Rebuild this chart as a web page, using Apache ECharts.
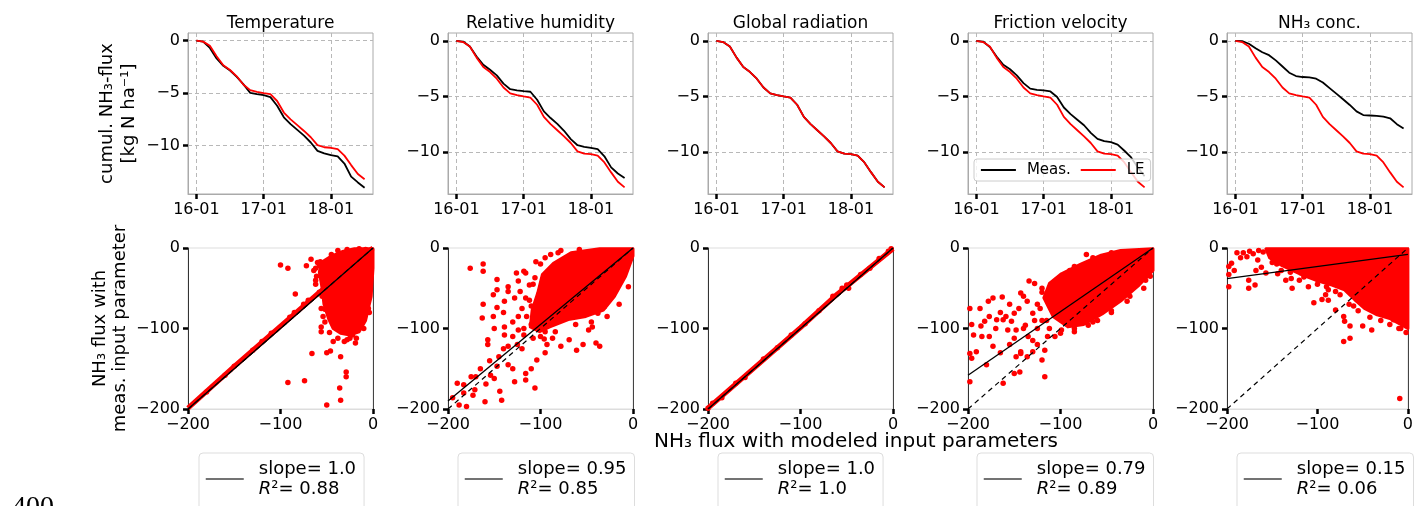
<!DOCTYPE html>
<html>
<head>
<meta charset="utf-8">
<title>NH3 flux sensitivity</title>
<script src="https://cdn.jsdelivr.net/npm/echarts/dist/echarts.min.js"></script>
<style>
  html, body { margin: 0; padding: 0; background: #fff; }
  #main { width: 1416px; height: 506px; }
</style>
</head>
<body>
<div id="main"></div>
<script>
// cumulative flux, x in days after 16-01
const days = [0, 0.1, 0.2, 0.3, 0.4, 0.5, 0.6, 0.7, 0.8, 0.9, 1.0, 1.1, 1.2, 1.3, 1.4, 1.5, 1.6, 1.7, 1.8, 1.9, 2.0, 2.1, 2.2, 2.3, 2.4, 2.5];
const dayTicks = ['16-01', '17-01', '18-01'];

const leFlux = [0, -0.1, -0.5, -1.5, -2.35, -2.8, -3.4, -4.2, -4.72, -4.88, -5.0, -5.1, -5.75, -6.85, -7.5, -8.05, -8.6, -9.2, -9.95, -10.15, -10.2, -10.33, -10.95, -11.85, -12.7, -13.2];
const measTemp = [0, -0.1, -0.7, -1.7, -2.4, -2.85, -3.45, -4.17, -4.98, -5.1, -5.19, -5.38, -6.2, -7.3, -7.95, -8.5, -9.05, -9.7, -10.5, -10.74, -10.9, -11.03, -11.7, -12.95, -13.5, -14.0];
const measHum = [0, -0.05, -0.5, -1.4, -2.15, -2.6, -3.1, -3.85, -4.35, -4.45, -4.52, -4.58, -5.3, -6.35, -6.95, -7.47, -8.1, -8.85, -9.4, -9.55, -9.64, -9.75, -10.4, -11.4, -11.95, -12.35];
const measRad = [0, -0.1, -0.5, -1.5, -2.35, -2.8, -3.4, -4.2, -4.72, -4.88, -5.0, -5.1, -5.75, -6.85, -7.5, -8.05, -8.6, -9.2, -9.95, -10.15, -10.2, -10.33, -10.95, -11.85, -12.7, -13.2];
const measUstar = [0, -0.05, -0.55, -1.4, -2.15, -2.55, -3.1, -3.8, -4.3, -4.4, -4.46, -4.55, -5.05, -6.0, -6.6, -7.1, -7.6, -8.28, -8.83, -9.04, -9.13, -9.34, -9.9, -10.5, -11.4, -12.2];
const measConc = [0, -0.02, -0.25, -0.65, -1.02, -1.28, -1.75, -2.3, -2.86, -3.16, -3.25, -3.28, -3.4, -3.75, -4.25, -4.75, -5.25, -5.77, -6.35, -6.68, -6.72, -6.76, -6.82, -6.97, -7.5, -7.89];

const panelTitles = ['Temperature', 'Relative humidity', 'Global radiation', 'Friction velocity', 'NH₃ conc.'];
const topYMin = [-14.6, -13.8, -13.8, -13.8, -13.8];

// scatter: x = flux with modeled input, y = flux with measured input
const coreTemp = [[0, -1], [-20, -1], [-32, -4], [-45, -10], [-56, -18], [-58, -30], [-55, -50], [-53, -70], [-48, -88], [-43, -100], [-35, -106], [-25, -108], [-15, -104], [-8, -90], [-2, -60], [0, -25]];
const coreHum = [[0, -1], [-36, -1], [-67, -6], [-86, -19], [-98, -33], [-103, -56], [-109, -77], [-111, -98], [-101, -104], [-90, -98], [-70, -89], [-51, -85], [-32, -77], [-20, -60], [-8, -35], [0, -10]];
const coreUstar = [[0, -1], [-35, -3], [-56, -9], [-78, -20], [-99, -32], [-112, -44], [-118, -62], [-108, -85], [-92, -98], [-75, -95], [-55, -82], [-35, -66], [-15, -46], [0, -28]];
const coreConc = [[-157, -1], [0, -1], [0, -100], [-8, -95], [-19, -88], [-34, -83], [-48, -75], [-59, -64], [-70, -52], [-84, -46], [-102, -40], [-120, -32], [-139, -22], [-153, -12]];

const bandTemp = [[-200, -199], [-150, -147], [-100, -97], [-60, -57], [-30, -28], [0, 0]];
const bandRad = [[-200, -199], [-150, -149], [-100, -99], [-60, -57], [-45, -43], [0, -1]];

const pointsTemp = [[-100, -21], [-92, -25], [-84, -57], [-72, -22], [-67, -14], [-60, -18], [-57, -17], [-52, -76], [-56, -98], [-56, -104], [-66, -131], [-50, -130], [-46, -128], [-35, -135], [-43, -116], [-31, -116], [-29, -154], [-29, -160], [-36, -174], [-35, -189], [-50, -195], [-74, -165], [-92, -167], [-19, -118], [-20, -102], [-62, -40], [-64, -28], [-48, -50], [-55, -60], [-40, -95], [-10, -88], [-5, -75], [-25, -112], [-52, -40], [-62, -25], [-45, -8], [-38, -3], [-28, -2], [-15, -1], [-8, -2], [-180, -179], [-160, -158], [-130, -127], [-110, -106], [-90, -86], [-75, -70], [-150, -147], [-120, -116], [-85, -80], [-70, -65], [-58, -22], [-61, -35], [-58, -55], [-56, -75], [-52, -92], [-47, -105], [-38, -112], [-28, -114], [-18, -112], [-10, -100], [-4, -80], [-62, -45], [-54, -85], [-22, -108]];
const pointsHum = [[-176, -25], [-162, -20], [-162, -29], [-162, -70], [-163, -87], [-147, -39], [-147, -52], [-135, -48], [-135, -54], [-124, -41], [-122, -54], [-116, -31], [-112, -46], [-106, -37], [-157, -114], [-157, -120], [-151, -85], [-139, -98], [-139, -108], [-124, -102], [-135, -122], [-145, -135], [-135, -145], [-147, -147], [-154, -158], [-150, -162], [-159, -169], [-160, -191], [-173, -183], [-171, -176], [-183, -170], [-188, -195], [-180, -197], [-144, -178], [-142, -189], [-128, -166], [-116, -156], [-116, -164], [-106, -174], [-104, -139], [-93, -120], [-87, -112], [-78, -122], [-69, -114], [-61, -127], [-54, -120], [-40, -118], [-36, -122], [-48, -102], [-44, -98], [-38, -81], [-31, -73], [-124, -85], [-110, -72], [-147, -74], [-128, -62], [-139, -66], [-116, -62], [-151, -58], [-126, -31], [-118, -29], [-105, -17], [-89, -8], [-81, -6], [-190, -168], [-183, -180], [-195, -186], [-170, -160], [-125, -120], [-110, -95], [-100, -110], [-118, -108], [-95, -104], [-130, -92], [-100, -20], [-95, -12], [-108, -45], [-112, -65], [-115, -85], [-118, -100], [-108, -112], [-96, -113], [-84, -104], [-62, -95], [-45, -92], [-28, -85], [-15, -70], [-5, -48], [-78, -3], [-58, -2], [-120, -75], [-130, -110], [-140, -125], [-165, -150], [-175, -160], [-155, -140], [-120, -125], [-95, -130], [-110, -150], [-130, -150], [-140, -80], [-150, -100]];
const pointsRad = [[-200, -199], [-195, -193], [-185, -186], [-170, -168], [-160, -161], [-140, -138], [-125, -124], [-110, -108], [-95, -94], [-80, -78], [-65, -60], [-55, -50], [-50, -46], [-48, -50], [-35, -33], [-25, -25], [-15, -13], [-5, -4], [-2, -1]];
const pointsUstar = [[-198, -75], [-187, -75], [-178, -66], [-173, -62], [-163, -61], [-177, -85], [-169, -89], [-196, -95], [-194, -108], [-186, -97], [-191, -129], [-198, -131], [-196, -137], [-198, -166], [-177, -110], [-173, -122], [-162, -89], [-157, -102], [-150, -112], [-148, -135], [-143, -131], [-150, -156], [-144, -154], [-162, -168], [-148, -102], [-134, -41], [-128, -44], [-143, -56], [-136, -66], [-130, -81], [-150, -81], [-153, -91], [-143, -129], [-136, -135], [-130, -129], [-125, -120], [-117, -127], [-120, -139], [-117, -160], [-114, -110], [-106, -110], [-99, -102], [-92, -93], [-72, -8], [-85, -23], [-103, -39], [-110, -48], [-159, -85], [-182, -91], [-122, -75], [-115, -90], [-125, -100], [-138, -96], [-120, -55], [-85, -100], [-70, -96], [-60, -90], [-45, -78], [-25, -60], [-8, -40], [-120, -50], [-125, -70], [-120, -90], [-112, -100], [-100, -106], [-85, -104], [-65, -92], [-45, -80], [-28, -66], [-10, -50], [-3, -35], [-90, -28], [-65, -12], [-45, -6], [-140, -60], [-145, -75], [-155, -70], [-165, -80], [-185, -110], [-170, -100], [-135, -110], [-130, -115], [-140, -100], [-128, -90], [-155, -120], [-165, -130], [-180, -145]];
const pointsConc = [[-198, -23], [-198, -33], [-198, -48], [-195, -19], [-189, -6], [-182, -6], [-175, -4], [-178, -11], [-171, -7], [-166, -15], [-176, -40], [-176, -50], [-169, -46], [-162, -24], [-157, -31], [-149, -6], [-144, -32], [-129, -38], [-128, -50], [-104, -68], [-95, -64], [-91, -58], [-80, -77], [-71, -85], [-70, -91], [-64, -97], [-71, -116], [-64, -112], [-50, -97], [-40, -102], [-25, -81], [-16, -89], [-8, -100], [-9, -187], [-110, -22], [-97, -39], [-80, -54], [-150, -18], [-140, -28], [-120, -40], [-110, -48], [-88, -52], [-60, -72], [-2, -105], [-160, -5], [-165, -3], [-150, -12], [-145, -20], [-130, -30], [-115, -36], [-100, -45], [-90, -48], [-75, -58], [-65, -70], [-55, -78], [-42, -86], [-30, -90], [-20, -95], [-10, -100], [-185, -12], [-192, -28], [-168, -28], [-135, -40], [-88, -65]];

const fitLines = [[[-200, -200], [0, 0]], [[-200, -190], [0, 0]], [[-200, -200], [0, 0]], [[-200, -158], [0, 0]], [[-200, -38], [0, -8]]];
const oneToOne = [[-200, -200], [0, 0]];
const slopes = ['1.0', '0.95', '1.0', '0.79', '0.15'];
const rSquared = ['0.88', '0.85', '1.0', '0.89', '0.06'];

const measSeries = [measTemp, measHum, measRad, measUstar, measConc];
const cores = [coreTemp, coreHum, null, coreUstar, coreConc];
const bands = [bandTemp, null, bandRad, null, null];
const points = [pointsTemp, pointsHum, pointsRad, pointsUstar, pointsConc];

const font = 'DejaVu Sans';
const lefts = [188, 448, 708, 968, 1227];
const boxLefts = [199, 458, 718, 977, 1237];
const minus = v => String(v).replace('-', '−');

let myChart = echarts.init(document.getElementById('main'));

let grid = [], xAxis = [], yAxis = [], series = [], legend = [], graphic = [];

const tickStyle = { show: true, length: 5, inside: false, lineStyle: { color: '#000', width: 2.5 } };
const labelStyle = { color: '#000', fontSize: 16, fontFamily: font, margin: 8 };

// top row: cumulative fluxes
lefts.forEach((left, i) => {
    grid.push({ left: left, top: 33, width: 185, height: 161, show: true, borderColor: '#aaa', borderWidth: 1 });
    xAxis.push({
        gridIndex: i, type: 'value', min: -0.125, max: 2.625,
        axisLine: { show: true, onZero: false, lineStyle: { color: '#aaa' } },
        axisTick: Object.assign({ customValues: [0, 1, 2] }, tickStyle),
        axisLabel: Object.assign({ customValues: [0, 1, 2], formatter: v => dayTicks[Math.round(v)] }, labelStyle),
        splitLine: { show: true, lineStyle: { color: '#b8b8b8', type: [4, 3], width: 1 } }
    });
    yAxis.push({
        gridIndex: i, type: 'value', min: topYMin[i], max: 0.72,
        axisLine: { show: true, onZero: false, lineStyle: { color: '#aaa' } },
        axisTick: Object.assign({ customValues: [-10, -5, 0] }, tickStyle),
        axisLabel: Object.assign({ customValues: [-10, -5, 0], formatter: minus }, labelStyle),
        splitLine: { show: true, lineStyle: { color: '#b8b8b8', type: [4, 3], width: 1 } }
    });
    series.push({
        name: 'Meas.', type: 'line', xAxisIndex: i, yAxisIndex: i, symbol: 'none', z: 2,
        lineStyle: { color: '#000', width: 1.8 }, itemStyle: { color: '#000' },
        data: days.map((d, k) => [d, measSeries[i][k]])
    });
    series.push({
        name: 'LE', type: 'line', xAxisIndex: i, yAxisIndex: i, symbol: 'none', z: 3,
        lineStyle: { color: '#ff0000', width: 1.8 }, itemStyle: { color: '#ff0000' },
        data: days.map((d, k) => [d, leFlux[k]])
    });
    graphic.push({
        type: 'text', x: left + 92.5, y: 24,
        style: { text: panelTitles[i], fontSize: 17, fontFamily: font, fill: '#000', textAlign: 'center', textVerticalAlign: 'middle' }
    });
});

// bottom row: scatter of fluxes
lefts.forEach((left, i) => {
    let g = 5 + i;
    grid.push({ left: left, top: 248, width: 185, height: 161, show: true, borderColor: '#ddd', borderWidth: 1 });
    xAxis.push({
        gridIndex: g, type: 'value', min: -200, max: 0, interval: 100,
        axisLine: { show: true, onZero: false, lineStyle: { color: '#ddd' } },
        axisTick: tickStyle,
        axisLabel: Object.assign({ formatter: minus }, labelStyle),
        splitLine: { show: false }
    });
    yAxis.push({
        gridIndex: g, type: 'value', min: -200, max: 0, interval: 100,
        axisLine: { show: true, onZero: false, lineStyle: { color: '#333' } },
        axisTick: tickStyle,
        axisLabel: Object.assign({ formatter: minus }, labelStyle),
        splitLine: { show: false }
    });

    if (cores[i]) {
        let poly = cores[i];
        series.push({
            type: 'custom', xAxisIndex: g, yAxisIndex: g, z: 1, silent: true, data: poly,
            renderItem: (params, api) => {
                if (params.dataIndex !== 0) return;
                return {
                    type: 'polygon',
                    shape: { points: poly.map(p => api.coord(p)) },
                    style: { fill: '#ff0000', stroke: '#ff0000', lineWidth: 3, lineJoin: 'round' }
                };
            }
        });
    }
    if (bands[i]) {
        series.push({
            type: 'line', xAxisIndex: g, yAxisIndex: g, symbol: 'none', z: 1, silent: true,
            lineStyle: { color: '#ff0000', width: 5 }, data: bands[i]
        });
    }
    series.push({
        type: 'scatter', xAxisIndex: g, yAxisIndex: g, symbolSize: 5.5, z: 2, silent: true,
        itemStyle: { color: '#ff0000', opacity: 1 }, data: points[i]
    });
    series.push({
        type: 'line', xAxisIndex: g, yAxisIndex: g, symbol: 'none', z: 3, silent: true,
        lineStyle: { color: '#000', width: 1.2, type: [5, 4] }, data: oneToOne
    });
    series.push({
        name: 'fit' + i, type: 'line', xAxisIndex: g, yAxisIndex: g, symbol: 'none', z: 4, silent: true,
        lineStyle: { color: '#000', width: 1.3 }, itemStyle: { color: '#000' }, data: fitLines[i]
    });
    legend.push({
        data: ['fit' + i], left: boxLefts[i], top: 453, orient: 'vertical',
        padding: [7, 8, 30, 6], itemWidth: 38, itemHeight: 10, selectedMode: false,
        backgroundColor: '#fff', borderColor: '#ddd', borderWidth: 1, borderRadius: 4,
        itemStyle: { opacity: 0 },
        lineStyle: { color: '#444', width: 1.5, opacity: 1 },
        formatter: () => '{t|slope= ' + slopes[i] + '}\n{i|R}{t|²= ' + rSquared[i] + '}',
        textStyle: {
            padding: [0, 0, 0, 10],
            rich: {
                t: { fontSize: 18, fontFamily: font, color: '#000', lineHeight: 20 },
                i: { fontSize: 18, fontFamily: font, color: '#000', lineHeight: 20, fontStyle: 'italic' }
            }
        }
    });
});

// right spines of the scatter panels
lefts.forEach((left, i) => {
    yAxis.push({
        gridIndex: 5 + i, type: 'value', min: -200, max: 0, position: 'right',
        axisLine: { show: true, onZero: false, lineStyle: { color: '#444' } },
        axisTick: { show: false }, axisLabel: { show: false }, splitLine: { show: false }
    });
});

legend.push({
    data: ['Meas.', 'LE'], left: 974, top: 159, orient: 'horizontal',
    itemWidth: 35, itemHeight: 10, itemGap: 9, padding: [3, 6, 3, 6], selectedMode: false,
    backgroundColor: 'rgba(255,255,255,0.8)', borderColor: '#ccc', borderWidth: 1, borderRadius: 3,
    itemStyle: { opacity: 0 },
    lineStyle: { width: 1.8, opacity: 1 },
    textStyle: { fontSize: 15, fontFamily: font, color: '#000', lineHeight: 16, padding: [0, 0, 0, 6] }
});

graphic.push(
    {
        type: 'text', x: 118, y: 113.5, rotation: Math.PI / 2,
        style: { text: 'cumul. NH₃-flux\n[kg N ha⁻¹]', fontSize: 18, lineHeight: 22, fontFamily: font, fill: '#000', textAlign: 'center', textVerticalAlign: 'middle' }
    },
    {
        type: 'text', x: 110, y: 328.5, rotation: Math.PI / 2,
        style: { text: 'NH₃ flux with\nmeas. input parameter', fontSize: 18, lineHeight: 20, fontFamily: font, fill: '#000', textAlign: 'center', textVerticalAlign: 'middle' }
    },
    {
        type: 'text', x: 856, y: 442,
        style: { text: 'NH₃ flux with modeled input parameters', fontSize: 20, fontFamily: font, fill: '#000', textAlign: 'center', textVerticalAlign: 'middle' }
    },
    {
        type: 'text', x: 12, y: 494,
        style: { text: '400', fontSize: 28, fontFamily: 'Liberation Serif', fill: '#000', textAlign: 'left', textVerticalAlign: 'top' }
    }
);

let option = {
    backgroundColor: '#fff',
    animation: false,
    grid: grid,
    xAxis: xAxis,
    yAxis: yAxis,
    legend: legend,
    graphic: graphic,
    series: series
};

myChart.setOption(option);
</script>
</body>
</html>
